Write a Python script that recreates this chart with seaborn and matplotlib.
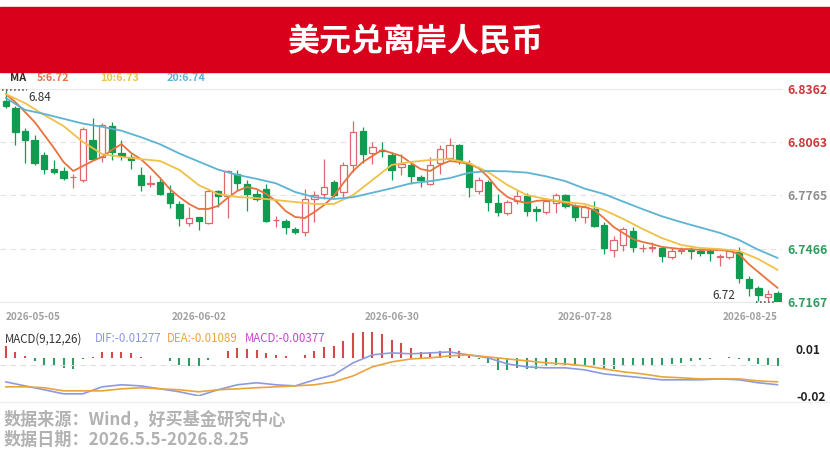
import numpy as np
import pandas as pd
import matplotlib
matplotlib.use("Agg")
import matplotlib.pyplot as plt
import seaborn as sns
from matplotlib.lines import Line2D
from matplotlib.patches import Rectangle

# trading days 2026-05-05 .. 2026-08-25 (81 sessions)
days = pd.bdate_range("2026-05-05", "2026-08-25")
label_dates = ["2026-05-05", "2026-06-02", "2026-06-30", "2026-07-28", "2026-08-25"]

open_ = [6.8296, 6.8257, 6.8125, 6.8075, 6.7990, 6.7915, 6.7900, 6.7866, 6.7849, 6.8078,
         6.7981, 6.8153, 6.8003, 6.7981, 6.7881, 6.7830, 6.7843, 6.7779, 6.7718, 6.7609,
         6.7642, 6.7610, 6.7787, 6.7759, 6.7883, 6.7830, 6.7774, 6.7802, 6.7625, 6.7620,
         6.7577, 6.7558, 6.7746, 6.7774, 6.7840, 6.7783, 6.7937, 6.8125, 6.8003, 6.8018,
         6.7990, 6.7924, 6.7934, 6.7868, 6.7830, 6.7949, 6.7975, 6.8050, 6.7943, 6.7787,
         6.7840, 6.7723, 6.7667, 6.7736, 6.7761, 6.7686, 6.7674, 6.7723, 6.7765, 6.7704,
         6.7642, 6.7689, 6.7599, 6.7460, 6.7487, 6.7567, 6.7468, 6.7470, 6.7470, 6.7421,
         6.7453, 6.7458, 6.7451, 6.7451, 6.7420, 6.7421, 6.7449, 6.7295, 6.7244, 6.7197,
         6.7216]
high = [6.8355, 6.8268, 6.8144, 6.8103, 6.8009, 6.7962, 6.7924, 6.7887, 6.8150, 6.8202,
        6.8174, 6.8178, 6.8075, 6.7999, 6.7924, 6.7881, 6.7858, 6.7821, 6.7736, 6.7699,
        6.7646, 6.7802, 6.7798, 6.7905, 6.7905, 6.7849, 6.7793, 6.7830, 6.7652, 6.7633,
        6.7586, 6.7802, 6.7790, 6.7971, 6.7849, 6.7952, 6.8182, 6.8150, 6.8065, 6.8065,
        6.8009, 6.7999, 6.7949, 6.7881, 6.7981, 6.8046, 6.8088, 6.8056, 6.7962, 6.7868,
        6.7849, 6.7774, 6.7742, 6.7798, 6.7780, 6.7708, 6.7746, 6.7780, 6.7774, 6.7717,
        6.7712, 6.7736, 6.7614, 6.7539, 6.7586, 6.7586, 6.7492, 6.7501, 6.7483, 6.7468,
        6.7474, 6.7474, 6.7474, 6.7464, 6.7436, 6.7464, 6.7474, 6.7314, 6.7257, 6.7235,
        6.7230]
low = [6.8257, 6.8050, 6.7949, 6.7934, 6.7887, 6.7887, 6.7849, 6.7808, 6.7840, 6.7962,
       6.7952, 6.7962, 6.7962, 6.7915, 6.7787, 6.7811, 6.7765, 6.7693, 6.7595, 6.7595,
       6.7573, 6.7605, 6.7699, 6.7637, 6.7793, 6.7680, 6.7731, 6.7614, 6.7586, 6.7548,
       6.7548, 6.7539, 6.7614, 6.7746, 6.7755, 6.7755, 6.7896, 6.7949, 6.7943, 6.7981,
       6.7849, 6.7877, 6.7830, 6.7811, 6.7821, 6.7887, 6.7962, 6.7943, 6.7755, 6.7774,
       6.7680, 6.7648, 6.7656, 6.7717, 6.7648, 6.7624, 6.7661, 6.7667, 6.7693, 6.7624,
       6.7610, 6.7586, 6.7436, 6.7417, 6.7455, 6.7445, 6.7445, 6.7449, 6.7392, 6.7411,
       6.7436, 6.7411, 6.7426, 6.7398, 6.7370, 6.7411, 6.7276, 6.7201, 6.7173, 6.7170,
       6.7167]
close = [6.8268, 6.8121, 6.8075, 6.7947, 6.7915, 6.7896, 6.7864, 6.7870, 6.8137, 6.7971,
         6.8159, 6.8009, 6.7984, 6.7962, 6.7826, 6.7834, 6.7774, 6.7723, 6.7639, 6.7639,
         6.7620, 6.7787, 6.7761, 6.7902, 6.7836, 6.7774, 6.7746, 6.7624, 6.7628, 6.7586,
         6.7562, 6.7746, 6.7768, 6.7811, 6.7765, 6.7937, 6.8121, 6.7999, 6.8037, 6.8014,
         6.7906, 6.7943, 6.7873, 6.7849, 6.7934, 6.8024, 6.8050, 6.7962, 6.7811, 6.7849,
         6.7727, 6.7671, 6.7727, 6.7764, 6.7680, 6.7680, 6.7736, 6.7768, 6.7708, 6.7642,
         6.7699, 6.7595, 6.7468, 6.7517, 6.7577, 6.7473, 6.7472, 6.7475, 6.7426, 6.7455,
         6.7456, 6.7453, 6.7440, 6.7440, 6.7424, 6.7455, 6.7304, 6.7248, 6.7205, 6.7210,
         6.7175]

ma5 = [6.8334, 6.8289, 6.8233, 6.8177, 6.8104, 6.8031, 6.7952, 6.7902, 6.7930, 6.7958,
       6.7981, 6.8020, 6.8053, 6.8003, 6.7969, 6.7919, 6.7863, 6.7801, 6.7756, 6.7717,
       6.7689, 6.7689, 6.7706, 6.7751, 6.7790, 6.7812, 6.7801, 6.7773, 6.7734, 6.7678,
       6.7644, 6.7638, 6.7672, 6.7711, 6.7762, 6.7835, 6.7902, 6.7952, 6.7986, 6.8020,
       6.8003, 6.7986, 6.7947, 6.7913, 6.7902, 6.7936, 6.7958, 6.7952, 6.7941, 6.7919,
       6.7868, 6.7801, 6.7756, 6.7734, 6.7722, 6.7734, 6.7739, 6.7734, 6.7722, 6.7706,
       6.7700, 6.7683, 6.7638, 6.7588, 6.7554, 6.7520, 6.7504, 6.7492, 6.7476, 6.7470,
       6.7464, 6.7464, 6.7459, 6.7459, 6.7459, 6.7453, 6.7436, 6.7380, 6.7335, 6.7290,
       6.7246]
# MA10 / MA20 read every second session
ma10 = [6.8334, 6.8283, 6.8216, 6.8154, 6.8065, 6.7997, 6.7981, 6.7969, 6.7958, 6.7908,
        6.7823, 6.7773, 6.7756, 6.7750, 6.7739, 6.7728, 6.7717, 6.7717, 6.7767, 6.7851,
        6.7936, 6.7953, 6.7964, 6.7969, 6.7947, 6.7896, 6.7823, 6.7767, 6.7745, 6.7728,
        6.7717, 6.7683, 6.7633, 6.7577, 6.7526, 6.7487, 6.7470, 6.7464, 6.7453, 6.7408,
        6.7347]
ma20 = [6.8312, 6.8245, 6.8222, 6.8195, 6.8168, 6.8150, 6.8128, 6.8092, 6.8052, 6.8000,
        6.7955, 6.7910, 6.7880, 6.7858, 6.7833, 6.7784, 6.7755, 6.7745, 6.7755, 6.7780,
        6.7805, 6.7833, 6.7845, 6.7862, 6.7892, 6.7902, 6.7900, 6.7893, 6.7872, 6.7845,
        6.7803, 6.7773, 6.7730, 6.7688, 6.7648, 6.7615, 6.7585, 6.7555, 6.7515, 6.7460,
        6.7414]

dif = [-0.0109, -0.0135, -0.0160, -0.0186, -0.0186, -0.0141, -0.0128, -0.0135, -0.0154, -0.0173,
       -0.0199, -0.0160, -0.0128, -0.0115, -0.0128, -0.0135, -0.0096, -0.0064, 0.0013, 0.0064,
       0.0077, 0.0071, 0.0077, 0.0083, 0.0064, 0.0045, 0.0006, -0.0013, -0.0019, -0.0019,
       -0.0032, -0.0058, -0.0071, -0.0083, -0.0096, -0.0096, -0.0096, -0.0090, -0.0096, -0.0115,
       -0.01277]
dea = [-0.0141, -0.0141, -0.0147, -0.0167, -0.0167, -0.0167, -0.0154, -0.0147, -0.0154, -0.0160,
       -0.0173, -0.0160, -0.0154, -0.0147, -0.0141, -0.0135, -0.0128, -0.0109, -0.0071, -0.0013,
       0.0019, 0.0038, 0.0045, 0.0058, 0.0064, 0.0051, 0.0038, 0.0026, 0.0013, 0.0006,
       -0.0006, -0.0026, -0.0045, -0.0058, -0.0077, -0.0083, -0.0090, -0.0090, -0.0090, -0.0103,
       -0.01089]
macd = [0.0056, 0.0029, 0.0008, -0.0016, -0.0032, -0.0040, -0.0048, -0.0052, -0.0004, 0.0003,
        0.0029, 0.0029, 0.0029, 0.0024, 0.0004, 0.0002, -0.0002, -0.0016, -0.0032, -0.0037,
        -0.0037, -0.0008, -0.0002, 0.0032, 0.0048, 0.0044, 0.0040, 0.0024, 0.0013, 0.0008,
        0.0002, 0.0016, 0.0035, 0.0051, 0.0059, 0.0083, 0.0119, 0.0124, 0.0124, 0.0114,
        0.0087, 0.0071, 0.0048, 0.0029, 0.0029, 0.0033, 0.0048, 0.0032, 0.0008, -0.0003,
        -0.0024, -0.0056, -0.0056, -0.0048, -0.0052, -0.0052, -0.0040, -0.0032, -0.0032, -0.0032,
        -0.0032, -0.0037, -0.0052, -0.0052, -0.0040, -0.0040, -0.0037, -0.0037, -0.0032, -0.0029,
        -0.0024, -0.0016, -0.0011, -0.0005, -0.0002, 0.0005, -0.0005, -0.0016, -0.0027, -0.0032,
        -0.00377]

price_ticks = [6.8362, 6.8063, 6.7765, 6.7466, 6.7167]
price_tick_colors = ["#c9383a", "#c9383a", "#8e8e8e", "#2d9a5e", "#2d9a5e"]

RED = "#e0686c"
GREEN = "#0f9b50"
C_MA5, C_MA10, C_MA20 = "#e8733e", "#efc146", "#5cb3d4"
C_DIF, C_DEA, C_MACD = "#8d9ae2", "#e9a53a", "#cc44cc"

sns.set_theme(style="white")
plt.rcParams["font.family"] = ["Noto Sans CJK SC", "DejaVu Sans"]
plt.rcParams["axes.unicode_minus"] = False

W, H = 830, 459
fig = plt.figure(figsize=(W / 100, H / 100), dpi=100)


def fx(x):
    return x / W


def fy(y):
    return 1 - y / H


# header banner
fig.add_artist(Rectangle((0, fy(72)), 1, (72 - 7) / H, transform=fig.transFigure,
                         color="#d8001a", zorder=0))
fig.text(fx(415), fy(41), "美元兑离岸人民币", ha="center", va="center",
         color="white", fontsize=23, weight="bold")

# ---- price panel
n = len(close)
idx = np.arange(n)
o, h, l, c = map(np.array, (open_, high, low, close))
up = c >= o

ax = fig.add_axes([0, fy(302), fx(782), (302 - 89) / H])
ax.vlines(idx, l, h, colors=np.where(up, RED, GREEN), lw=0.9, zorder=2)
body_lo = np.minimum(o, c)
body_h = np.maximum(np.abs(c - o), 0.00018)
ax.bar(idx, body_h, bottom=body_lo, width=0.66,
       color=np.where(up, "white", GREEN), edgecolor=np.where(up, RED, GREEN),
       linewidth=0.9, zorder=3)

even = idx[::2]
ma_df = pd.concat([
    pd.DataFrame({"i": idx, "v": ma5, "ma": "MA5"}),
    pd.DataFrame({"i": even, "v": ma10, "ma": "MA10"}),
    pd.DataFrame({"i": even, "v": ma20, "ma": "MA20"}),
])
sns.lineplot(data=ma_df, x="i", y="v", hue="ma", ax=ax, legend=False, lw=1.3,
             palette={"MA5": C_MA5, "MA10": C_MA10, "MA20": C_MA20}, zorder=4)

xlim = (-0.59, 80.45)
ax.set_xlim(*xlim)
ax.set_ylim(price_ticks[-1], price_ticks[0])
for lv in price_ticks[1:-1]:
    ax.axhline(lv, color="#e2e2e2", lw=0.8, ls=(0, (5, 4)), zorder=1)
for s in ("left", "right"):
    ax.spines[s].set_visible(False)
for s in ("top", "bottom"):
    ax.spines[s].set_color("#e8e8e8")
    ax.spines[s].set_linewidth(0.8)

ax.yaxis.tick_right()
ax.set_yticks(price_ticks, labels=[f"{v:.4f}" for v in price_ticks])
ax.tick_params(axis="y", length=0, pad=3.6, labelsize=8.8)
for lbl, col in zip(ax.get_yticklabels(), price_tick_colors):
    lbl.set_color(col)
    lbl.set_fontweight("bold")

pos = days.get_indexer(pd.to_datetime(label_dates))
ax.set_xticks(pos, labels=label_dates)
ax.tick_params(axis="x", length=0, pad=7.5, labelsize=7.2, labelcolor="#a0a0a0")
xl = ax.get_xticklabels()
for lbl in xl:
    lbl.set_fontweight("bold")
xl[0].set_ha("left")
xl[-1].set_ha("right")
ax.set_xlabel("")
ax.set_ylabel("")

# max / min markers
imax = int(np.argmax(h))
ax.plot([imax - 0.35, imax + 2.2], [h[imax]] * 2, ls=":", color="#444444", lw=1.1,
        zorder=5, clip_on=False)
ax.text(imax + 2.35, h[imax] - 0.0004, f"{h[imax]:.2f}", ha="left", va="top",
        fontsize=8.5, color="#333333")
imin = int(np.argmin(l))
ax.plot([imin - 2.2, imin - 0.4], [l[imin]] * 2, ls=":", color="#444444", lw=1.1,
        zorder=5, clip_on=False)
ax.text(imin - 4.4, l[imin] + 0.0002, f"{l[imin]:.2f}", ha="right", va="bottom",
        fontsize=8.5, color="#333333")

# MA legend row
yl = fy(78)
fig.text(fx(10), yl, "MA", color="#3a2a22", fontsize=7.8, weight="bold", va="center")
fig.text(fx(37), yl, f"5:{ma5[-1]:.2f}", color=C_MA5, fontsize=7.8, weight="bold", va="center")
fig.text(fx(100), yl, f"10:{ma10[-1]:.2f}", color=C_MA10, fontsize=7.8, weight="bold", va="center")
fig.text(fx(167), yl, f"20:{ma20[-1]:.2f}", color=C_MA20, fontsize=7.8, weight="bold", va="center")

# ---- MACD panel
axh = fig.add_axes([0, fy(396), fx(782), (396 - 330) / H])
axh.vlines(idx, 0, macd, colors=np.where(np.array(macd) >= 0, "#d44a4a", "#2f9c68"), lw=1.5)
axh.set_ylim(-0.0181, 0.0133)
axh.set_xlim(*xlim)
axh.set_xticks([])
axh.set_yticks([])
for s in axh.spines.values():
    s.set_visible(False)

axl = axh.twinx()
macd_df = pd.concat([
    pd.DataFrame({"i": even, "v": dif, "k": "DIF"}),
    pd.DataFrame({"i": even, "v": dea, "k": "DEA"}),
])
axl.axhline(0, color="#dcdcdc", lw=0.8, ls=(0, (5, 4)), zorder=1)
sns.lineplot(data=macd_df, x="i", y="v", hue="k", ax=axl, legend=False, lw=1.2,
             palette={"DIF": C_DIF, "DEA": C_DEA}, zorder=3)
axl.set_xlim(*xlim)
axl.set_ylim(-0.0199, 0.0224)
axl.set_yticks([0.01, -0.02], labels=["0.01", "-0.02"])
axl.tick_params(axis="y", length=0, pad=10, labelsize=8.6, labelcolor="#222222")
for lbl in axl.get_yticklabels():
    lbl.set_fontweight("bold")
axl.set_xlabel("")
axl.set_ylabel("")
for s in axl.spines.values():
    s.set_visible(False)

ym = fy(339)
fig.text(fx(5), ym, "MACD(9,12,26)", color="#333333", fontsize=8.3, va="center")
fig.text(fx(95), ym, f"DIF:{dif[-1]:.5f}", color=C_DIF, fontsize=8.3, va="center")
fig.text(fx(167), ym, f"DEA:{dea[-1]:.5f}", color=C_DEA, fontsize=8.3, va="center")
fig.text(fx(245), ym, f"MACD:{macd[-1]:.5f}", color=C_MACD, fontsize=8.3, va="center")

# footer
fig.add_artist(Line2D([0, 1], [fy(402)] * 2, color="#eeeeee", lw=1, transform=fig.transFigure))
fig.text(fx(4), fy(420), "数据来源：Wind，好买基金研究中心", color="#b2b2b2",
         fontsize=12.3, weight="bold", va="center")
fig.text(fx(4), fy(440), "数据日期：2026.5.5-2026.8.25", color="#b2b2b2",
         fontsize=12.3, weight="bold", va="center")

fig.savefig("out.png", dpi=100)
